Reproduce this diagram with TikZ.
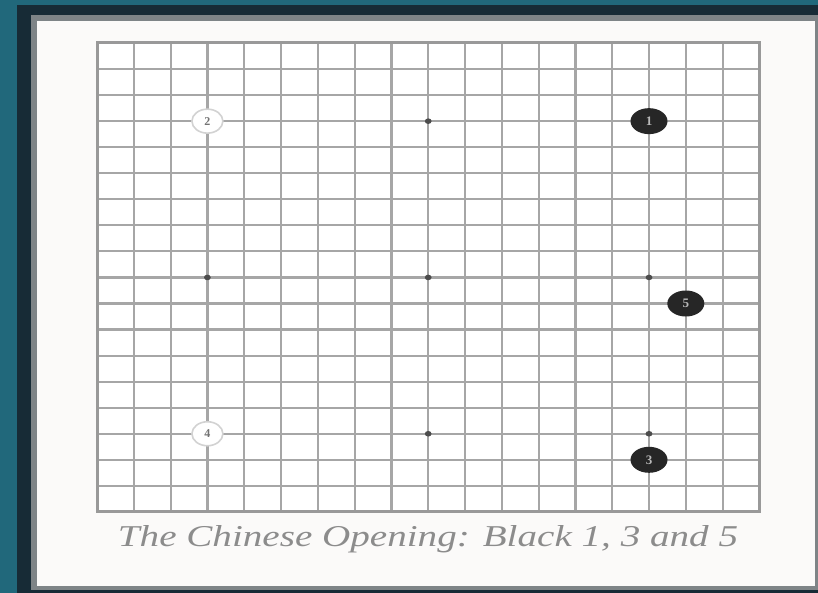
\documentclass[tikz,border=0pt]{standalone}
\usepackage{fontspec}
\setmainfont{Liberation Serif}
\usepackage{graphicx}
\usetikzlibrary{shapes.geometric}

\definecolor{teal}{HTML}{21687B}
\definecolor{framedark}{HTML}{172B36}
\definecolor{framegray}{HTML}{7E8487}
\definecolor{paper}{HTML}{FBFAF9}
\definecolor{boardline}{HTML}{A6A6A6}
\definecolor{boardedge}{HTML}{999999}

\tikzset{
  gridline/.style={boardline, line width=2.2pt},
  edgeline/.style={boardedge, line width=3pt},
  starpoint/.style={fill=black!70},
  blackstone/.style={ellipse, fill=black!85, minimum width=37pt, minimum height=26pt,
    inner sep=0pt, text=gray!55, font=\bfseries\fontsize{13}{13}\selectfont},
  whitestone/.style={ellipse, fill=white, draw=gray!35, line width=1.6pt,
    minimum width=31pt, minimum height=24pt, inner sep=0pt, text=black!55,
    font=\bfseries\fontsize{12}{12}\selectfont}
}

\begin{document}
\begin{tikzpicture}[x=1pt, y=-1pt]
    % Frame
    \useasboundingbox (0,0) rectangle (818,593);
    \fill[teal] (0,0) rectangle (818,593);
    \fill[framedark] (17,5) rectangle (818,593);
    \fill[framegray] (31,15) rectangle (818,590);
    \fill[paper] (37,21) rectangle (815,586);

    \begin{scope}[shift={(97,43)}, x=36.8pt, y=-26.05pt]
        % Board
        \fill[white] (0,0) rectangle (18,18);
        \foreach \i in {1,...,17} {
            \draw[gridline] (\i,0) -- (\i,18);
            \draw[gridline] (0,\i) -- (18,\i);
        }
        \draw[edgeline] (0,0) rectangle (18,18);

        % Star points
        \foreach \x in {3,9,15}
            \foreach \y in {3,9,15}
                \fill[starpoint] (\x,\y) ellipse [x radius=3.4pt, y radius=2.8pt];

        % Stones
        \node[blackstone] (b1) at (15,3) {1};
        \node[whitestone] (w2) at (3,3) {2};
        \node[blackstone] (b3) at (15,16) {3};
        \node[whitestone] (w4) at (3,15) {4};
        \node[blackstone] (b5) at (16,10) {5};
    \end{scope}

    % Caption
    \node[text=black!45] (caption) at (428,539)
        {\resizebox{620pt}{21pt}{\itshape The Chinese Opening: Black 1, 3 and 5}};
\end{tikzpicture}
\end{document}
